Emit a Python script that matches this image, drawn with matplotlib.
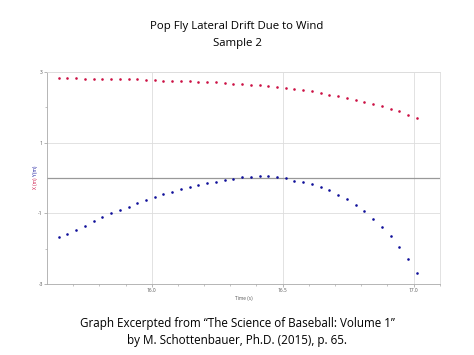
import numpy as np
import matplotlib.pyplot as plt

# time axis: 42 samples at 30 frames per second
t_start = 15.645
frame_dt = 1 / 30.0
x_drift = [2.84, 2.82, 2.82, 2.80, 2.80, 2.79, 2.80, 2.80, 2.81, 2.79, 2.78,
           2.77, 2.76, 2.75, 2.74, 2.74, 2.73, 2.72, 2.71, 2.69, 2.67,
           2.65, 2.64, 2.62, 2.61, 2.58, 2.56, 2.51, 2.48, 2.47, 2.42, 2.36,
           2.32, 2.26, 2.22, 2.16, 2.09, 2.03, 1.95, 1.89, 1.78, 1.70]
y_drift = [-1.67, -1.59, -1.47, -1.35, -1.23, -1.11, -1.00, -0.91, -0.81, -0.72,
           -0.62, -0.55, -0.46, -0.39, -0.32, -0.25, -0.20, -0.15, -0.10, -0.06,
           -0.02, 0.02, 0.04, 0.05, 0.05, 0.03, 0.01, -0.07, -0.11, -0.16,
           -0.25, -0.35, -0.47, -0.60, -0.76, -0.94, -1.15, -1.39, -1.65,
           -1.94, -2.29, -2.68]
time = t_start + frame_dt * np.arange(len(x_drift))

x_ticks = [16.0, 16.5, 17.0]
x_tick_labels = ['16.0', '16.5', '17.0']
y_ticks = [3, 1, -1, -3]
y_tick_labels = ['3', '1', '-1', '-3']

plt.rcParams['font.family'] = ['Open Sans', 'DejaVu Sans']

fig = plt.figure(figsize=(4.74, 3.55), dpi=100)
ax = fig.add_axes([0.099, 0.2, 0.829, 0.597])

ax.scatter(time, x_drift, s=3.5, marker='o', color='#cc1144', linewidths=0, zorder=3)
ax.scatter(time, y_drift, s=3.5, marker='o', color='#10109a', linewidths=0, zorder=3)

ax.set_xlim(15.6, 17.1)
ax.set_ylim(-3, 3)
ax.set_xticks(x_ticks)
ax.set_xticklabels(x_tick_labels)
ax.set_xticks(np.arange(15.7, 17.1, 0.1), minor=True)
ax.set_yticks(y_ticks)
ax.set_yticklabels(y_tick_labels)
ax.set_yticks([2, -2], minor=True)
ax.tick_params(labelsize=3.5, length=2, width=0.5, color='#999999', labelcolor='#555555', pad=1)
ax.tick_params(which='minor', length=1.5, width=0.5, color='#aaaaaa')

ax.grid(True, which='major', color='#dddddd', linewidth=0.6)
ax.axhline(0, color='#999999', linewidth=0.9, zorder=2)
for side in ['top', 'right']:
    ax.spines[side].set_color('#dddddd')
    ax.spines[side].set_linewidth(0.6)
for side in ['left', 'bottom']:
    ax.spines[side].set_color('#aaaaaa')
    ax.spines[side].set_linewidth(0.6)

ax.set_xlabel('Time (s)', fontsize=3.5, color='#555555', labelpad=2)
fig.text(0.074, 0.485, 'X (m)', rotation=90, fontsize=3.5, color='#cc1144', ha='center', va='center')
fig.text(0.074, 0.517, 'Y (m)', rotation=90, fontsize=3.5, color='#10109a', ha='center', va='center')

fig.text(0.5, 0.925, 'Pop Fly Lateral Drift Due to Wind', ha='center', va='center', fontsize=8.2)
fig.text(0.5, 0.877, 'Sample 2', ha='center', va='center', fontsize=8.2)
fig.text(0.5, 0.09, 'Graph Excerpted from \u201cThe Science of Baseball: Volume 1\u201d',
         ha='center', va='center', fontsize=8.4)
fig.text(0.5, 0.04, 'by M. Schottenbauer, Ph.D. (2015), p. 65.', ha='center', va='center', fontsize=8.4)

fig.savefig('out.png', dpi=100)
